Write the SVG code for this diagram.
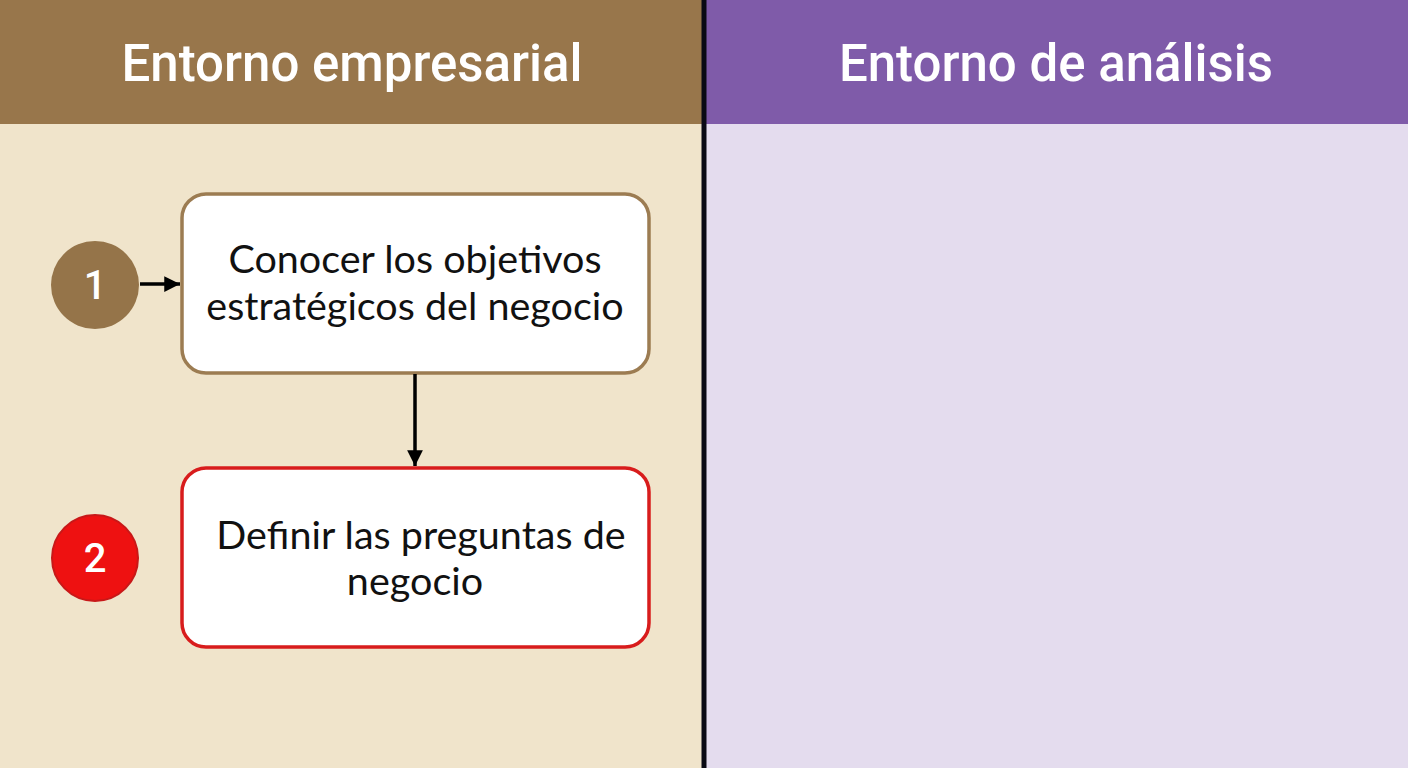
<svg xmlns="http://www.w3.org/2000/svg" width="1408" height="768" viewBox="0 0 1408 768">
<defs>
<style>
.hdr{font-family:Roboto,"Open Sans","Liberation Sans",sans-serif;font-size:51px;font-weight:500;fill:#ffffff;text-anchor:middle}
.lbl{font-family:Lato,"Liberation Sans",sans-serif;font-size:39.5px;fill:#111111;text-anchor:middle}
.num{font-family:Roboto,"Liberation Sans",sans-serif;font-size:40px;font-weight:500;fill:#ffffff;text-anchor:middle}
.box{fill:#ffffff;stroke-width:3.5}
.conn{stroke:#000000;stroke-width:3.5;fill:none}
</style>
<marker id="ah" viewBox="0 0 10 10" refX="10" refY="5" markerWidth="4.5" markerHeight="4.5" markerUnits="strokeWidth" orient="auto">
<path d="M0,0 L10,5 L0,10 z" fill="#000000"/>
</marker>
</defs>
<g id="lanes">
<rect x="0" y="0" width="704" height="768" fill="#f0e4cb"/>
<rect x="704" y="0" width="704" height="768" fill="#e4dcee"/>
<rect x="0" y="0" width="704" height="124" fill="#98764b"/>
<rect x="704" y="0" width="704" height="124" fill="#7f5ba9"/>
<line x1="704" y1="0" x2="704" y2="768" stroke="#0a0a14" stroke-width="5"/>
<text class="hdr" x="352" y="81">Entorno empresarial</text>
<text class="hdr" x="1056" y="81">Entorno de análisis</text>
</g>
<g id="step1-badge">
<circle cx="95" cy="285" r="44" fill="#957449"/>
<text class="num" x="95" y="299">1</text>
</g>
<g id="step1">
<rect class="box" x="182" y="194" width="467" height="179" rx="24" stroke="#9c7c52"/>
<text class="lbl" x="415" y="273">Conocer los objetivos</text>
<text class="lbl" x="415" y="320">estratégicos del negocio</text>
</g>
<g id="step2-badge">
<circle cx="95" cy="558" r="43" fill="#ee1111" stroke="#c81818" stroke-width="2"/>
<text class="num" x="95" y="572">2</text>
</g>
<g id="step2">
<rect class="box" x="182" y="468" width="467" height="179" rx="24" stroke="#d81c1c"/>
<text class="lbl" x="421" y="549">Definir las preguntas de</text>
<text class="lbl" x="415" y="595">negocio</text>
</g>
<g id="connectors">
<line class="conn" x1="140" y1="284" x2="180" y2="284" marker-end="url(#ah)"/>
<line class="conn" x1="415" y1="374" x2="415" y2="466" marker-end="url(#ah)"/>
</g>
</svg>
